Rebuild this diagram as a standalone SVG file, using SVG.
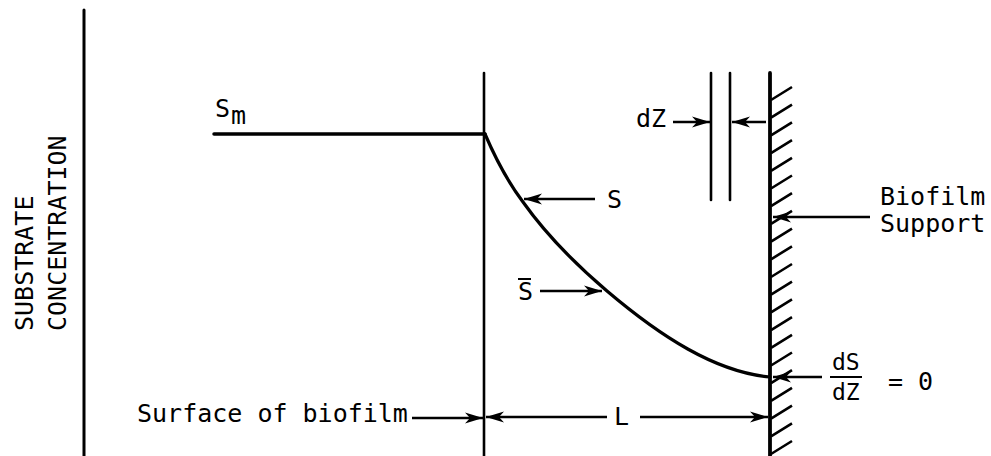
<svg xmlns="http://www.w3.org/2000/svg" width="991" height="456" viewBox="0 0 991 456">
<defs>
<marker id="ah" markerUnits="userSpaceOnUse" markerWidth="20" markerHeight="14" refX="18" refY="7" orient="auto">
<path d="M0,1.5 L18,7 L0,12.5 L5,7 Z" fill="#000"/>
</marker>
<style>
.t{font-family:"DejaVu Sans Mono","Liberation Mono",monospace;font-size:25px;fill:#000}
.s{font-size:23px}
.ln{stroke:#000;fill:none;stroke-linecap:round}
.ar{stroke:#000;stroke-width:2.6;fill:none;marker-end:url(#ah)}
.h{stroke:#000;stroke-width:2.6;fill:none}
</style>
</defs>
<rect width="991" height="456" fill="#fff"/>
<g id="axis">
<line class="ln" x1="84" y1="10" x2="84" y2="456" stroke-width="3"/>
<text class="t" transform="translate(33,331) rotate(-90)">SUBSTRATE</text>
<text class="t" transform="translate(66,331) rotate(-90)">CONCENTRATION</text>
</g>
<g id="sm">
<line class="ln" x1="214" y1="134" x2="485" y2="134" stroke-width="3.5"/>
<text class="t" x="215" y="117">S</text>
<text class="t" x="231" y="124">m</text>
</g>
<g id="surface">
<line class="ln" x1="484" y1="73" x2="484" y2="456" stroke-width="2.6"/>
<text class="t" x="137" y="422">Surface of biofilm</text>
</g>
<g id="curve">
<path class="ln" stroke-width="3.2" d="M485,134 C497,162 508,182 523,202 C550,240 580,268 607,291 C660,336 715,372 770,377"/>
</g>
<g id="dz">
<line class="ln" x1="711" y1="73" x2="711" y2="200" stroke-width="2.6"/>
<line class="ln" x1="730" y1="73" x2="730" y2="200" stroke-width="2.6"/>
<text class="t" x="636" y="127">dZ</text>
</g>
<g id="wall">
<line class="ln" x1="770" y1="73" x2="770" y2="456" stroke-width="3.8"/>
<path class="h" d="M771,100 L792,87 M771,117.7 L792,104.7 M771,135.4 L792,122.4 M771,153.1 L792,140.1 M771,170.8 L792,157.8 M771,188.5 L792,175.5 M771,206.2 L792,193.2 M771,223.9 L792,210.9 M771,241.6 L792,228.6 M771,259.3 L792,246.3 M771,277 L792,264 M771,294.7 L792,281.7 M771,312.4 L792,299.4 M771,330.1 L792,317.1 M771,347.8 L792,334.8 M771,365.5 L792,352.5 M771,383.2 L792,370.2 M771,400.9 L792,387.9 M771,418.6 L792,405.6 M771,436.3 L792,423.3 M771,454 L792,441"/>
<text class="t" x="880" y="205">Biofilm</text>
<text class="t" x="880" y="232">Support</text>
</g>
<g id="labels">
<text class="t" x="607" y="208">S</text>
<text class="t" x="518" y="300">S</text>
<line x1="518" y1="279" x2="531" y2="279" stroke="#000" stroke-width="2"/>
<text class="t" x="614" y="425">L</text>
<text class="t s" x="832" y="370">dS</text>
<line x1="830" y1="377" x2="862" y2="377" stroke="#000" stroke-width="2"/>
<text class="t s" x="832" y="400">dZ</text>
<text class="t" x="888" y="390">= 0</text>
</g>
<g id="connectors">
<line class="ar" x1="412" y1="418" x2="483" y2="418"/>
<line class="ar" x1="607" y1="417" x2="486" y2="417"/>
<line class="ar" x1="640" y1="417" x2="768" y2="417"/>
<line class="ar" x1="595" y1="199" x2="524" y2="199"/>
<line class="ar" x1="540" y1="291" x2="602" y2="291"/>
<line class="ar" x1="673" y1="122" x2="710" y2="122"/>
<line class="ar" x1="766" y1="122" x2="732" y2="122"/>
<line class="ar" x1="870" y1="217" x2="773" y2="217"/>
<line class="ar" x1="822" y1="377" x2="773" y2="377"/>
</g>
</svg>
